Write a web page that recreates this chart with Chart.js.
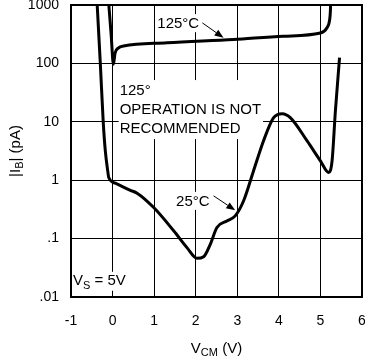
<!DOCTYPE html>
<html><head><meta charset="utf-8">
<script src="https://cdn.jsdelivr.net/npm/chart.js@4/dist/chart.umd.min.js"></script>
<style>html,body{margin:0;padding:0;background:#fff}#c{display:block}</style>
</head><body>
<canvas id="c" width="365" height="357"></canvas>
<script>
// ---- data ----
const xTickValues = [-1, 0, 1, 2, 3, 4, 5, 6];
const yTickValues = [0.01, 0.1, 1, 10, 100, 1000];
const yTickLabels = ['.01', '.1', '1', '10', '100', '1000'];

const vcm25 = [-0.37, -0.295, -0.225, -0.175, -0.12, -0.09, 0.066, 0.43, 0.59, 0.99, 1.47, 1.79, 2.03, 2.19, 2.35, 2.51, 2.75, 2.95, 3.15, 3.39, 3.63, 3.87, 4.08, 4.28, 4.68, 5.0, 5.2, 5.28, 5.36, 5.46];
const ib25  = [1000, 100, 10, 3.2, 1.5, 1.1, 0.89, 0.67, 0.6, 0.34, 0.136, 0.07, 0.046, 0.049, 0.08, 0.155, 0.2, 0.245, 0.44, 1.44, 4.7, 11.7, 13.8, 11.7, 4.7, 2.14, 1.35, 2.14, 15.3, 125];

const vcm125 = [-0.09, -0.035, 0.02, 0.06, 0.145, 0.265, 1.31, 2.91, 4.11, 5.0, 5.15, 5.22, 5.24, 5.245];
const ib125  = [1000, 316, 97, 150, 185, 198, 225, 257, 293, 331, 400, 550, 800, 1100];

const curveLabels = ['125°C', '25°C'];
const curveLabelAt = [[1.58, 489], [1.93, 0.443]];
const arrowFrom = [[2.16, 494], [2.43, 0.54]];
const arrowTo = [[2.67, 274], [2.95, 0.305]];

const noteLines = ['125°', 'OPERATION IS NOT', 'RECOMMENDED'];
const noteAt = [0.17, 28.7];
const supplyAt = [-0.952, 0.0162];

const FONT = '"Liberation Sans", Arial, Helvetica, sans-serif';

function pts(xs, ys) { return xs.map((x, i) => ({ x: x, y: ys[i] })); }

function partsWidth(ctx, parts, size, subSize) {
  let w = 0;
  for (const p of parts) {
    ctx.font = (p.sub ? subSize : size) + 'px ' + FONT;
    w += ctx.measureText(p.t).width;
  }
  return w;
}
function drawParts(ctx, parts, x, y, size, subSize, subDrop) {
  let cx = x;
  for (const p of parts) {
    ctx.font = (p.sub ? subSize : size) + 'px ' + FONT;
    ctx.fillText(p.t, cx, y + (p.sub ? subDrop : 0));
    cx += ctx.measureText(p.t).width;
  }
}
function noPad(s) { s.paddingTop = 0; s.paddingBottom = 0; s.paddingLeft = 0; s.paddingRight = 0; }

const annot = {
  id: 'annot',
  beforeDatasetsDraw(chart) {
    const ctx = chart.ctx, xs = chart.scales.x, ys = chart.scales.y;
    ctx.save();
    ctx.textBaseline = 'alphabetic';
    ctx.textAlign = 'left';
    // note block
    ctx.font = '15px ' + FONT;
    const nx = xs.getPixelForValue(noteAt[0]);
    const ny = ys.getPixelForValue(noteAt[1]);
    let maxW = 0;
    noteLines.forEach(l => { maxW = Math.max(maxW, ctx.measureText(l).width); });
    ctx.fillStyle = '#fff';
    ctx.fillRect(nx - 1, ny - 15, maxW + 3, 19 * noteLines.length + 2);
    ctx.fillStyle = '#000';
    noteLines.forEach((l, i) => ctx.fillText(l, nx, ny + 19 * i));
    // curve labels
    ctx.textAlign = 'center';
    ctx.textBaseline = 'middle';
    curveLabels.forEach((t, i) => {
      const px = xs.getPixelForValue(curveLabelAt[i][0]);
      const py = ys.getPixelForValue(curveLabelAt[i][1]);
      const w = ctx.measureText(t).width;
      ctx.fillStyle = '#fff';
      ctx.fillRect(px - w / 2 - 2, py - 9, w + 4, 18);
      ctx.fillStyle = '#000';
      ctx.fillText(t, px, py + 1);
    });
    // supply label
    ctx.textAlign = 'left';
    ctx.textBaseline = 'alphabetic';
    const sParts = [{ t: 'V' }, { t: 'S', sub: true }, { t: ' = 5V' }];
    const sx = xs.getPixelForValue(supplyAt[0]);
    const sy = ys.getPixelForValue(supplyAt[1]);
    const sw = partsWidth(ctx, sParts, 15, 11);
    ctx.fillStyle = '#fff';
    ctx.fillRect(sx - 1, sy - 13, sw + 3, 19);
    ctx.fillStyle = '#000';
    drawParts(ctx, sParts, sx, sy, 15, 11, 4);
    ctx.restore();
  },
  afterDatasetsDraw(chart) {
    const ctx = chart.ctx, xs = chart.scales.x, ys = chart.scales.y, a = chart.chartArea;
    ctx.save();
    // frame
    ctx.strokeStyle = '#000';
    ctx.lineWidth = 2;
    ctx.strokeRect(a.left, a.top, a.right - a.left, a.bottom - a.top);
    // arrows
    ctx.lineWidth = 1;
    ctx.fillStyle = '#000';
    arrowFrom.forEach((f, i) => {
      const x1 = xs.getPixelForValue(f[0]), y1 = ys.getPixelForValue(f[1]);
      const x2 = xs.getPixelForValue(arrowTo[i][0]), y2 = ys.getPixelForValue(arrowTo[i][1]);
      const ang = Math.atan2(y2 - y1, x2 - x1);
      const L = 9, W = 3.5;
      ctx.beginPath();
      ctx.moveTo(x1, y1);
      ctx.lineTo(x2 - L * Math.cos(ang), y2 - L * Math.sin(ang));
      ctx.stroke();
      ctx.beginPath();
      ctx.moveTo(x2, y2);
      ctx.lineTo(x2 - L * Math.cos(ang) + W * Math.sin(ang), y2 - L * Math.sin(ang) - W * Math.cos(ang));
      ctx.lineTo(x2 - L * Math.cos(ang) - W * Math.sin(ang), y2 - L * Math.sin(ang) + W * Math.cos(ang));
      ctx.closePath();
      ctx.fill();
    });
    // axis titles
    ctx.fillStyle = '#000';
    ctx.textBaseline = 'alphabetic';
    const xt = [{ t: 'V' }, { t: 'CM', sub: true }, { t: ' (V)' }];
    const xw = partsWidth(ctx, xt, 15, 11);
    drawParts(ctx, xt, (a.left + a.right) / 2 - xw / 2, 353, 15, 11, 3);
    const yt = [{ t: '|I' }, { t: 'B', sub: true }, { t: '| (pA)' }];
    const yw = partsWidth(ctx, yt, 15, 11);
    ctx.translate(20, (a.top + a.bottom) / 2);
    ctx.rotate(-Math.PI / 2);
    drawParts(ctx, yt, -yw / 2, 0, 15, 11, 3);
    ctx.restore();
  }
};

Chart.defaults.color = '#000';
Chart.defaults.font.family = FONT;

new Chart(document.getElementById('c'), {
  type: 'line',
  data: {
    datasets: [
      { label: '25°C', data: pts(vcm25, ib25), borderColor: '#000', borderWidth: 3, pointRadius: 0, cubicInterpolationMode: 'monotone', fill: false },
      { label: '125°C', data: pts(vcm125, ib125), borderColor: '#000', borderWidth: 3, pointRadius: 0, cubicInterpolationMode: 'monotone', fill: false }
    ]
  },
  options: {
    responsive: false,
    animation: false,
    devicePixelRatio: 1,
    layout: { padding: { top: 5, right: 3, left: 0, bottom: 0 } },
    plugins: { legend: { display: false }, tooltip: { enabled: false } },
    scales: {
      x: {
        type: 'linear', min: -1, max: 6,
        afterBuildTicks: s => { s.ticks = xTickValues.map(v => ({ value: v })); },
        afterFit: s => { s.height = 60; noPad(s); },
        ticks: { font: { size: 14 }, padding: 16, maxRotation: 0, autoSkip: false },
        grid: { color: '#000', lineWidth: 1, drawTicks: false },
        border: { display: false }
      },
      y: {
        type: 'logarithmic', min: 0.01, max: 1000,
        afterBuildTicks: s => { s.ticks = yTickValues.map(v => ({ value: v })); },
        afterFit: s => { s.width = 71; noPad(s); },
        ticks: { font: { size: 14 }, padding: 12, autoSkip: false, callback: (v, i) => yTickLabels[i] },
        grid: { color: '#000', lineWidth: 1, drawTicks: false },
        border: { display: false }
      }
    }
  },
  plugins: [annot]
});
</script>
</body></html>
